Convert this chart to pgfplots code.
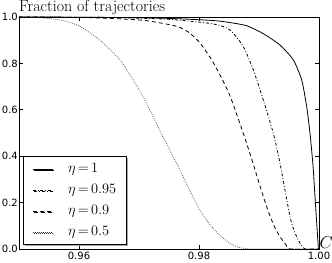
\documentclass[border=0pt]{standalone}
\usepackage{fontspec}
\usepackage{pgfplots}
\pgfplotsset{compat=1.18}
\usetikzlibrary{shadows}
\newfontfamily\dejavu{DejaVu Sans}

\pgfplotstableread{
x y
0.9500 1.000
0.9600 0.999
0.9700 0.997
0.9760 0.993
0.9823 0.985
0.98517 0.976
0.9880 0.962
0.99072 0.928
0.9935 0.879
0.99572 0.815
0.99712 0.728
0.99795 0.613
0.9985 0.499
0.9990 0.36
0.99933 0.225
0.9997 0.08
0.9999 0.0
}\etaone

\pgfplotstableread{
x y
0.9500 1.000
0.9650 0.998
0.9750 0.990
0.9824 0.970
0.98517 0.944
0.98738 0.872
0.98905 0.772
0.99072 0.642
0.99238 0.499
0.9935 0.370
0.99517 0.139
0.9960 0.070
0.99683 0.025
0.9977 0.0
0.9999 0.0
}\etanf

\pgfplotstableread{
x y
0.9500 1.000
0.9600 0.998
0.9660 0.993
0.9710 0.985
0.9753 0.966
0.97683 0.955
0.9785 0.930
0.98017 0.888
0.9820 0.820
0.9835 0.750
0.98517 0.660
0.98738 0.499
0.9890 0.370
0.9900 0.285
0.99128 0.182
0.9925 0.100
0.9935 0.053
0.9945 0.018
0.9952 0.0
0.9999 0.0
}\etanine

\pgfplotstableread{
x y
0.9500 1.000
0.9535 0.997
0.95683 0.987
0.9600 0.962
0.9635 0.900
0.96683 0.815
0.96905 0.728
0.9707 0.655
0.97183 0.599
0.97405 0.480
0.97517 0.425
0.97683 0.340
0.9785 0.250
0.98017 0.168
0.98183 0.105
0.9835 0.058
0.98517 0.025
0.98683 0.006
0.9890 0.0
0.9999 0.0
}\etahalf

\begin{document}
\begin{tikzpicture}
\useasboundingbox (-19bp,-14bp) rectangle (313bp,249bp);
\begin{axis}[
  at={(0,0)}, anchor=south west,
  scale only axis, width=300bp, height=232bp,
  xmin=0.95, xmax=1.0, ymin=0, ymax=1,
  xtick={0.96,0.98,1.00}, xticklabels={0.96,0.98,1.00},
  ytick={0,0.2,0.4,0.6,0.8,1.0}, yticklabels={0.0,0.2,0.4,0.6,0.8,1.0},
  ticklabel style={font=\dejavu\fontsize{10bp}{12bp}\selectfont},
  yticklabel style={inner sep=1bp},
  xticklabel style={inner sep=1bp, yshift=-2bp},
  tick align=inside, major tick length=4bp,
  tick style={black, line width=0.6bp},
  axis line style={line width=0.8bp},
  every axis title/.style={font=\fontsize{16bp}{19bp}\selectfont, at={(rel axis cs:0,1)}, anchor=base west, inner sep=0pt, yshift=5bp},
  title={Fraction of trajectories},
  xlabel={$C$},
  xlabel style={font=\fontsize{16.5bp}{20bp}\selectfont, at={(rel axis cs:1,0)}, anchor=base west, inner sep=0pt, xshift=0.5bp, yshift=1bp},
  legend cell align=left,
  legend style={at={(rel axis cs:0.013,0.017)}, anchor=south west, draw=black, line width=0.8bp, fill=white,
    drop shadow={shadow xshift=1.5bp, shadow yshift=-1.5bp, fill=gray!70, opacity=1},
    inner xsep=9bp, inner ysep=6bp, row sep=8bp,
    /tikz/every odd column/.append style={column sep=14bp},
    nodes={font=\fontsize{13.5bp}{16bp}\selectfont, text height=9.5bp, text depth=3.5bp, inner xsep=1bp, inner ysep=0bp}},
  legend image code/.code={\draw[#1, line width=0.8bp] (0bp,0bp) -- (20bp,0bp);},
]
\addplot[black, line width=0.8bp, smooth, tension=0.4] table {\etaone};
\addlegendentry{$\eta\mskip-2mu=\mskip-2mu1$}
\addplot[black, line width=0.8bp, smooth, tension=0.4, dash pattern=on 3bp off 2bp on 0.8bp off 2bp] table {\etanf};
\addlegendentry{$\eta\mskip-2mu=\mskip-2mu0.95$}
\addplot[black, line width=0.8bp, smooth, tension=0.4, dash pattern=on 4bp off 3bp] table {\etanine};
\addlegendentry{$\eta\mskip-2mu=\mskip-2mu0.9$}
\addplot[black!80, line width=0.7bp, smooth, tension=0.4, dash pattern=on 0.7bp off 1.3bp] table {\etahalf};
\addlegendentry{$\eta\mskip-2mu=\mskip-2mu0.5$}
\end{axis}
\end{tikzpicture}
\end{document}
